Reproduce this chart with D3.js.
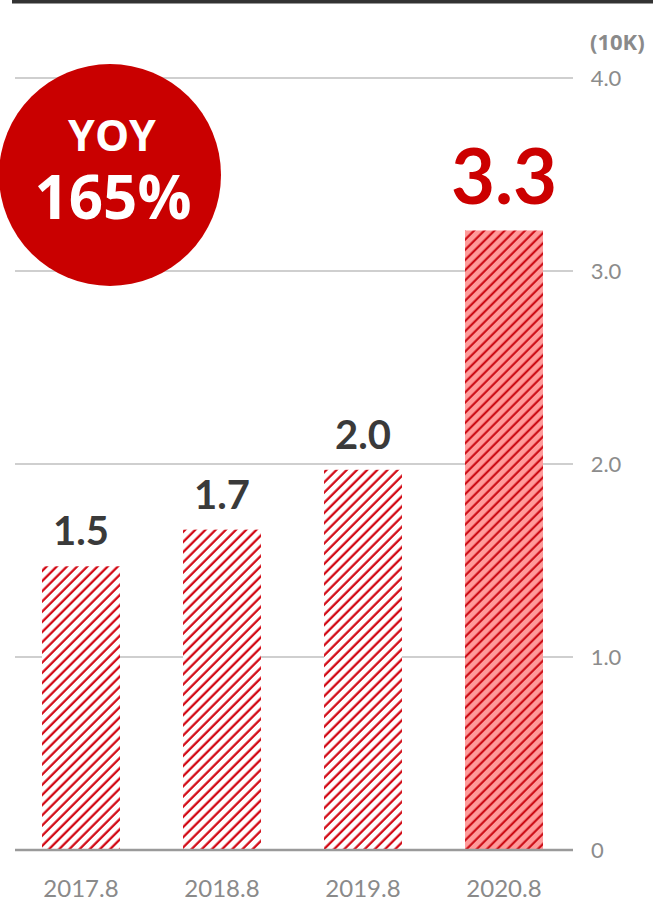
<!DOCTYPE html>
<html>
<head>
<meta charset="utf-8">
<script src="https://cdn.jsdelivr.net/npm/d3@7"></script>
<style>
  html, body { margin: 0; padding: 0; background: #fff; }
  svg { display: block; }
</style>
</head>
<body>
<div id="chart"></div>
<script>
// Categories along the bottom
const categories = ['2017.8', '2018.8', '2019.8', '2020.8'];
// Bar heights as drawn (unit 10K)
const values = [1.47, 1.66, 1.97, 3.21];
// Printed value labels above the bars
const valueLabels = ['1.5', '1.7', '2.0', '3.3'];
// Right-hand axis ticks
const ticks = [0, 1, 2, 3, 4];
const tickLabels = ['0', '1.0', '2.0', '3.0', '4.0'];

const W = 653, H = 904;

const svg = d3.select('#chart').append('svg')
  .attr('width', W)
  .attr('height', H);

// Hatch patterns: plain (white) and highlighted (pink background)
const defs = svg.append('defs');
function hatch(id, bg, stroke, sw) {
  const p = defs.append('pattern')
    .attr('id', id)
    .attr('patternUnits', 'userSpaceOnUse')
    .attr('width', 7.2)
    .attr('height', 7.2)
    .attr('patternTransform', 'rotate(45)');
  p.append('rect').attr('width', 7.2).attr('height', 7.2).attr('fill', bg);
  p.append('line')
    .attr('x1', 1.5).attr('y1', 0)
    .attr('x2', 1.5).attr('y2', 7.2)
    .attr('stroke', stroke)
    .attr('stroke-width', sw);
}
hatch('hatch', '#ffffff', '#d0000c', 2.2);
hatch('hatchHot', '#ff9a9a', '#c8000a', 2.0);

const y = d3.scaleLinear().domain([0, 4]).range([850, 78]);
const x = d3.scaleBand()
  .domain(categories)
  .range([0, 585])
  .paddingInner(0.447)
  .paddingOuter(0.298);

// Top rule
svg.append('rect')
  .attr('x', 12).attr('y', 0)
  .attr('width', W - 12).attr('height', 3.5)
  .attr('fill', '#333');

// Gridlines
svg.append('g')
  .selectAll('line')
  .data(ticks.filter(d => d > 0))
  .join('line')
  .attr('x1', 15).attr('x2', 573)
  .attr('y1', d => y(d)).attr('y2', d => y(d))
  .attr('stroke', '#cfcfcf')
  .attr('stroke-width', 2);

// Tick labels on the right
svg.append('g')
  .selectAll('text')
  .data(ticks)
  .join('text')
  .attr('x', d => d === 0 ? 591 : 606)
  .attr('y', d => y(d) + 8)
  .attr('text-anchor', d => d === 0 ? 'start' : 'middle')
  .attr('font-family', 'Lato, "Open Sans", sans-serif')
  .attr('font-size', 22)
  .attr('fill', '#8c8c8c')
  .text((d, i) => tickLabels[i]);

// Unit label
svg.append('text')
  .attr('x', 590).attr('y', 50)
  .attr('font-family', '"Open Sans", sans-serif')
  .attr('font-weight', 700)
  .attr('font-size', 22)
  .attr('fill', '#8a8a8a')
  .text('(10K)');

// Bars
svg.append('g')
  .selectAll('rect')
  .data(values)
  .join('rect')
  .attr('x', (d, i) => x(categories[i]))
  .attr('y', d => y(d))
  .attr('width', x.bandwidth())
  .attr('height', d => y(0) - y(d))
  .attr('fill', (d, i) => i === values.length - 1 ? 'url(#hatchHot)' : 'url(#hatch)');

// Baseline
svg.append('line')
  .attr('x1', 15).attr('x2', 573)
  .attr('y1', y(0)).attr('y2', y(0))
  .attr('stroke', '#9a9a9a')
  .attr('stroke-width', 2.5);

// Value labels
svg.append('g')
  .selectAll('text')
  .data(values)
  .join('text')
  .attr('x', (d, i) => x(categories[i]) + x.bandwidth() / 2)
  .attr('y', (d, i) => i === values.length - 1 ? y(d) - 26 : y(d) - 21)
  .attr('text-anchor', 'middle')
  .attr('font-family', 'Lato, "Open Sans", sans-serif')
  .attr('font-weight', 700)
  .attr('font-size', (d, i) => i === values.length - 1 ? 76 : 40)
  .attr('fill', (d, i) => i === values.length - 1 ? '#cc0000' : '#3a3a3a')
  .text((d, i) => valueLabels[i]);

// Category labels
svg.append('g')
  .selectAll('text')
  .data(categories)
  .join('text')
  .attr('x', d => x(d) + x.bandwidth() / 2)
  .attr('y', 897)
  .attr('text-anchor', 'middle')
  .attr('font-family', 'Lato, "Open Sans", sans-serif')
  .attr('font-size', 24)
  .attr('fill', '#8a8a8a')
  .text(d => d);

// YOY badge
const badge = svg.append('g');
badge.append('circle')
  .attr('cx', 110).attr('cy', 175)
  .attr('r', 111)
  .attr('fill', '#c90000');
badge.append('text')
  .attr('x', 112).attr('y', 151)
  .attr('text-anchor', 'middle')
  .attr('font-family', '"Open Sans", sans-serif')
  .attr('font-weight', 700)
  .attr('font-size', 43)
  .attr('fill', '#fff')
  .text('YOY');
badge.append('text')
  .attr('x', 113).attr('y', 219)
  .attr('text-anchor', 'middle')
  .attr('font-family', '"Open Sans", sans-serif')
  .attr('font-weight', 700)
  .attr('font-size', 60)
  .attr('fill', '#fff')
  .text('165%');
</script>
</body>
</html>
